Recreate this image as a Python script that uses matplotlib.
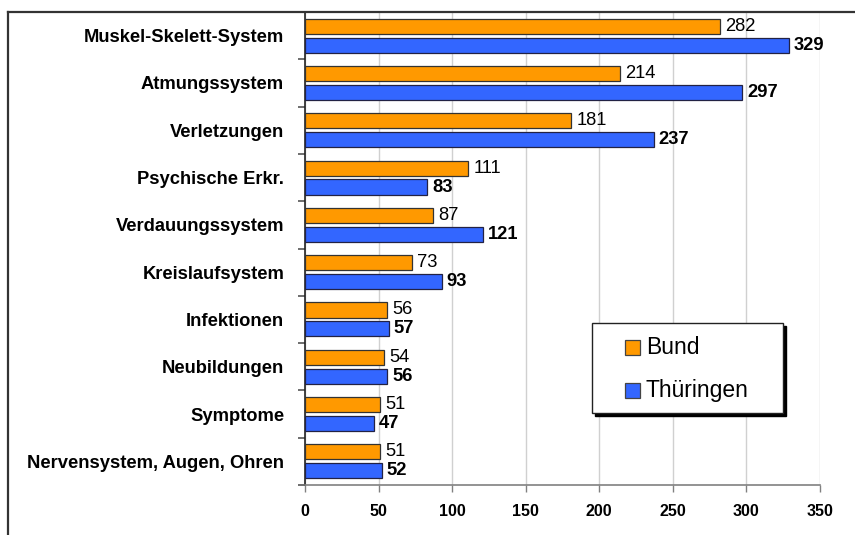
import matplotlib
matplotlib.use("Agg")
import matplotlib.pyplot as plt
import matplotlib.transforms as mtransforms
import numpy as np
from matplotlib.patches import Rectangle
from matplotlib.lines import Line2D

categories = ["Muskel-Skelett-System", "Atmungssystem", "Verletzungen", "Psychische Erkr.",
              "Verdauungssystem", "Kreislaufsystem", "Infektionen", "Neubildungen",
              "Symptome", "Nervensystem, Augen, Ohren"]
bund = [282, 214, 181, 111, 87, 73, 56, 54, 51, 51]
thueringen = [329, 297, 237, 83, 121, 93, 57, 56, 47, 52]
series_names = ["Bund", "Thüringen"]
xticks = [0, 50, 100, 150, 200, 250, 300, 350]

plt.rcParams['font.family'] = ['Liberation Sans', 'DejaVu Sans']

c_bund = "#FF9900"
c_thu = "#3366FF"

fig = plt.figure(figsize=(8.55, 5.35), dpi=100)
ax = fig.add_axes([305/855, 1-485/535, (820-305)/855, (485-12)/535])

n = len(categories)
y = np.arange(n)
h = 0.32
ax.barh(y - 0.2, bund, height=h, color=c_bund, edgecolor="#333333", linewidth=0.9, zorder=3)
ax.barh(y + 0.2, thueringen, height=h, color=c_thu, edgecolor="#222244", linewidth=0.9, zorder=3)

for yi, v in zip(y, bund):
    ax.annotate(str(v), (v, yi - 0.2), xytext=(3.5, 0), textcoords="offset points",
                va="center", ha="left", fontsize=13.2)
for yi, v in zip(y, thueringen):
    ax.annotate(str(v), (v, yi + 0.2), xytext=(3.5, 0), textcoords="offset points",
                va="center", ha="left", fontsize=13.2, fontweight="bold")

ax.set_xlim(0, 350)
ax.set_ylim(n - 0.5, -0.5)
ax.set_xticks(xticks)
ax.set_xticklabels([str(t) for t in xticks], fontsize=11.5, fontweight="bold")
ax.tick_params(axis="x", direction="out", length=5, width=1, color="#808080", pad=9)
ax.set_yticks(y)
ax.set_yticklabels(categories, fontsize=13.2, fontweight="bold")
ax.tick_params(axis="y", which="major", length=0, pad=15)
ax.set_yticks(np.arange(n + 1) - 0.5, minor=True)
ax.tick_params(axis="y", which="minor", direction="out", length=5, width=1.2, color="#555555")

ax.grid(axis="x", color="#d0d0d0", linewidth=1, zorder=0)
ax.set_axisbelow(True)
for s in ["top", "right"]:
    ax.spines[s].set_visible(False)
ax.spines["left"].set_color("#222222")
ax.spines["left"].set_linewidth(1.2)
ax.spines["bottom"].set_color("#808080")
ax.spines["bottom"].set_linewidth(1.2)

# outer frame (top and left)
fig.add_artist(Line2D([8/855, 1.0], [1-12/535, 1-12/535], transform=fig.transFigure,
                      color="#333333", linewidth=1.6))
fig.add_artist(Line2D([8/855, 8/855], [1-12/535, 0.0], transform=fig.transFigure,
                      color="#333333", linewidth=1.6))

# legend box with shadow
lx0, lx1 = (592-305)/515, (783-305)/515
ly0, ly1 = (485-413)/473, (485-323)/473
shadow_tr = mtransforms.offset_copy(ax.transAxes, fig=fig, x=3, y=-3, units="dots")
ax.add_patch(Rectangle((lx0, ly0), lx1 - lx0, ly1 - ly0, transform=shadow_tr,
                       facecolor="black", edgecolor="black", linewidth=1.0, zorder=5))
ax.add_patch(Rectangle((lx0, ly0), lx1 - lx0, ly1 - ly0, transform=ax.transAxes,
                       facecolor="white", edgecolor="#222222", linewidth=1.0, zorder=6))
sq_w = 15/515
sq_h = 15/473
for name, col, ypix in zip(series_names, [c_bund, c_thu], [347, 390]):
    yc = (485-ypix)/473
    ax.add_patch(Rectangle(((625-305)/515, yc - sq_h/2), sq_w, sq_h, transform=ax.transAxes,
                           facecolor=col, edgecolor="#444444", linewidth=0.9, zorder=7))
    ax.text((646-305)/515, yc, name, transform=ax.transAxes, va="center", ha="left",
            fontsize=16.5, zorder=8)

fig.savefig("out.png", dpi=100)
